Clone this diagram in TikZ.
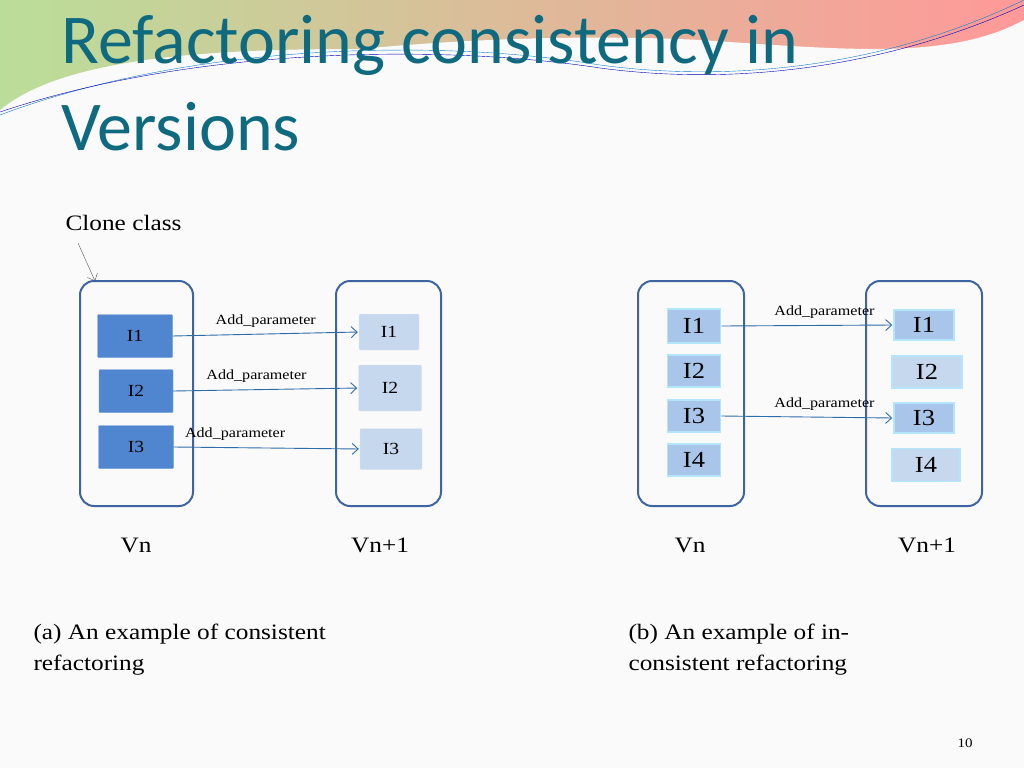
\documentclass[tikz,border=0pt]{standalone}
\usepackage{fontspec}
\setmainfont[FakeStretch=1.15]{Liberation Serif}
\newfontfamily\titlefont{Carlito}
\usetikzlibrary{arrows.meta}
\definecolor{titleblue}{HTML}{0F6A80}
\definecolor{frame}{HTML}{3F65A0}
\definecolor{darkbox}{HTML}{4F86CF}
\definecolor{lightbox}{HTML}{C6D8EE}
\definecolor{midbox}{HTML}{A9C6EA}
\definecolor{arrowblue}{HTML}{2E6CA8}

\begin{document}
\begin{tikzpicture}[x=1pt,y=-1pt,>={Straight Barb[length=6pt,width=11pt]},
        version/.style={draw=frame,line width=2pt,rounded corners=14pt},
        darkitem/.style={fill=darkbox,draw=darkbox!80!white,rounded corners=1pt},
        lightitem/.style={fill=lightbox,draw=lightbox!60!white,rounded corners=1pt},
        framed/.style={fill=midbox,draw=cyan!30!white,line width=1.5pt},
        edit/.style={->,arrowblue,line width=0.9pt,shorten >=1pt},
        refact/.style={black,font=\fontsize{14}{14}\selectfont},
        label/.style={font=\fontsize{22}{22}\selectfont}]
  \useasboundingbox (0,0) rectangle (1024,768);
  \fill[white!96!gray] (0,0) rectangle (1024,768);
  % header swoosh
  \shade[left color=green!35!olive!40!white,right color=red!40!white]
    (0,0) -- (1024,0) -- (1024,40) .. controls (900,150) and (700,60) .. (420,50)
    .. controls (200,45) and (60,60) .. (0,110) -- cycle;
  \fill[white!96!gray] (0,120) .. controls (200,50) and (500,30) .. (700,40)
    .. controls (850,50) and (950,60) .. (1024,20) -- (1024,160) -- (0,160) -- cycle;
  \draw[cyan!60!blue,thin] (0,115) .. controls (200,40) and (450,40) .. (600,65)
    .. controls (750,85) and (900,60) .. (1024,0);
  \draw[blue!70!black,thin] (0,112) .. controls (200,45) and (450,45) .. (600,68)
    .. controls (750,88) and (900,62) .. (1024,5);
  \node[anchor=west,titleblue,font=\titlefont\fontsize{70}{70}\selectfont] (title1) at (58,45) {Refactoring consistency in};
  \node[anchor=west,titleblue,font=\titlefont\fontsize{70}{70}\selectfont] (title2) at (58,127) {Versions};

  % (a) consistent
  \node[anchor=west,font=\fontsize{22}{22}\selectfont] (clone) at (62,223) {Clone class};
  \coordinate (cloneend) at (95,281);
  \draw[->,gray!70!black] (78,243) -- (cloneend);
  \draw[version] (80,281) rectangle (193,506);
  \draw[version] (336,281) rectangle (441,506);
  \node[darkitem,minimum width=75pt,minimum height=43pt,font=\fontsize{17}{17}\selectfont] (a1) at (135,336) {I1};
  \node[darkitem,minimum width=74pt,minimum height=43pt,font=\fontsize{17}{17}\selectfont] (a2) at (136,391) {I2};
  \node[darkitem,minimum width=75pt,minimum height=43pt,font=\fontsize{17}{17}\selectfont] (a3) at (136,447) {I3};
  \node[lightitem,minimum width=60pt,minimum height=36pt,font=\fontsize{17}{17}\selectfont] (b1) at (389,332) {I1};
  \node[lightitem,minimum width=63pt,minimum height=46pt,font=\fontsize{17}{17}\selectfont] (b2) at (390,388) {I2};
  \node[lightitem,minimum width=62pt,minimum height=41pt,font=\fontsize{17}{17}\selectfont] (b3) at (391,449) {I3};
  \draw[edit] (a1.east) -- node[above=3pt,refact,pos=0.5] {Add\_parameter} (b1.west);
  \draw[edit] (a2.east) -- node[above=3pt,refact,pos=0.45] {Add\_parameter} (b2.west);
  \draw[edit] (a3.east) -- node[above=3pt,refact,pos=0.33] {Add\_parameter} (b3.west);
  \node[label] (vn1) at (136,545) {Vn};
  \node[label] (vm1) at (380,545) {Vn+1};
  \node[anchor=north west,align=left,font=\fontsize{22}{31}\selectfont] (capa) at (30,620) {(a) An example of consistent\\refactoring};

  % (b) inconsistent
  \draw[version] (638,281) rectangle (744,506);
  \draw[version] (866,281) rectangle (982,506);
  \node[framed,minimum width=53pt,minimum height=34pt,font=\fontsize{23}{23}\selectfont] (c1) at (694,326) {I1};
  \node[framed,minimum width=53pt,minimum height=32pt,font=\fontsize{23}{23}\selectfont] (c2) at (694,371) {I2};
  \node[framed,minimum width=53pt,minimum height=32pt,font=\fontsize{23}{23}\selectfont] (c3) at (694,416) {I3};
  \node[framed,minimum width=53pt,minimum height=32pt,font=\fontsize{23}{23}\selectfont] (c4) at (694,460) {I4};
  \node[framed,minimum width=60pt,minimum height=30pt,font=\fontsize{23}{23}\selectfont] (d1) at (924,325) {I1};
  \node[framed,fill=lightbox,minimum width=70pt,minimum height=32pt,font=\fontsize{23}{23}\selectfont] (d2) at (927,372) {I2};
  \node[framed,minimum width=60pt,minimum height=30pt,font=\fontsize{23}{23}\selectfont] (d3) at (924,418) {I3};
  \node[framed,fill=lightbox,minimum width=68pt,minimum height=33pt,font=\fontsize{23}{23}\selectfont] (d4) at (926,465) {I4};
  \draw[edit] (c1.east) -- node[above=3pt,refact,pos=0.6] {Add\_parameter} (d1.west);
  \draw[edit] (c3.east) -- node[above=3pt,refact,pos=0.6] {Add\_parameter} (d3.west);
  \node[label] (vn2) at (690,545) {Vn};
  \node[label] (vm2) at (927,545) {Vn+1};
  \node[anchor=north west,align=left,font=\fontsize{22}{31}\selectfont] (capb) at (625,620) {(b) An example of in-\\consistent refactoring};
  \node[font=\fontsize{13}{13}\selectfont] (page) at (965,743) {10};
\end{tikzpicture}
\end{document}
